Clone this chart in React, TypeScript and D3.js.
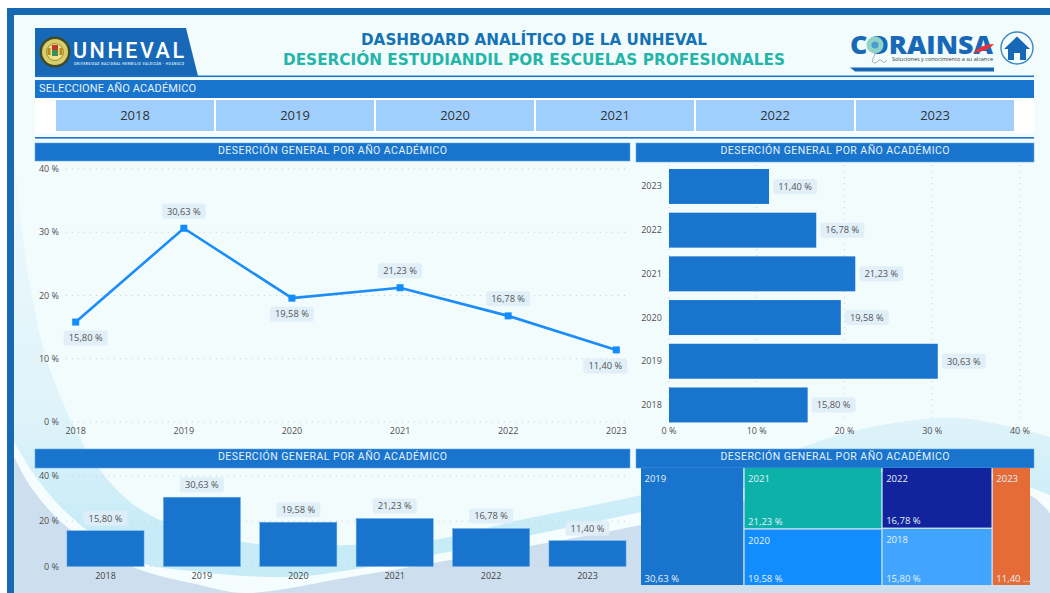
import React from "react";
import * as d3 from "d3";

// ---- data ----
const years = ["2018", "2019", "2020", "2021", "2022", "2023"];
const rates = [15.8, 30.63, 19.58, 21.23, 16.78, 11.4];
const axisTicksMain = [0, 10, 20, 30, 40];
const axisTicksBottom = [0, 20, 40];
const lineLabelBelow = [true, false, true, false, false, true];
const lineLabelShift = [10, 0, 0, 0, 0, -11];
const treemapGroups = [["2019"], ["2021", "2020"], ["2022", "2018"], ["2023"]];
const treemapColors: Record<string, string> = {
  "2019": "#1874cd",
  "2021": "#0cb2aa",
  "2022": "#12239e",
  "2020": "#118dff",
  "2018": "#41a4ff",
  "2023": "#e66c37",
};
const panelTitle = "DESERCIÓN GENERAL POR AÑO ACADÉMICO";

// ---- background wave outlines (decoration) ----
const waveCyan: [number, number][] = [
  [14, 150], [22, 230], [30, 285], [50, 370], [100, 470], [150, 515], [250, 543], [350, 545], [433, 540],
  [520, 520], [641, 495], [760, 462], [858, 430], [958, 418], [1050, 437],
];
const waveWhite: [number, number][] = [
  [14, 441], [33, 473], [67, 513], [133, 560], [200, 572], [290, 577], [350, 570], [433, 555],
  [641, 512], [760, 485], [858, 465], [958, 465], [1050, 495],
];
const waveDark: [number, number][] = [
  [14, 457], [33, 490], [67, 527], [133, 567], [200, 585], [245, 593], [350, 577], [433, 563],
  [641, 525], [800, 488], [900, 470], [960, 472], [1030, 495], [1050, 513],
];

const BLUE = "#1874cd";
const LABEL_FONT = "'Open Sans', sans-serif";
const TITLE_FONT = "Roboto, sans-serif";
const TICK = "#4f4f4f";

const wavePath = (pts: [number, number][]) => {
  const top = d3.line().curve(d3.curveCatmullRom.alpha(0.5))(pts) as string;
  return `${top}L1050,593L14,593Z`;
};

function TitleBar({ x, w, y, h }: { x: number; w: number; y: number; h: number }) {
  return (
    <g>
      <rect x={x} y={y} width={w} height={h} fill={BLUE} stroke="#64a9e8" strokeWidth={0.6} />
      <text
        x={x + w / 2}
        y={y + 11}
        textAnchor="middle"
        fill="#e6f2fb"
        fontFamily={TITLE_FONT}
        fontWeight={400}
        fontSize={10.5}
        textLength={229}
        lengthAdjust="spacing"
      >
        {panelTitle}
      </text>
    </g>
  );
}

function DataLabel({ cx, cy, text, w = 44 }: { cx: number; cy: number; text: string; w?: number }) {
  return (
    <g>
      <rect x={cx - w / 2} y={cy - 7.5} width={w} height={15} rx={3} fill="#dfedf8" fillOpacity={0.9} />
      <text x={cx} y={cy + 3.3} textAnchor="middle" fontFamily={LABEL_FONT} fontSize={9.3} fill="#555">
        {text}
      </text>
    </g>
  );
}

const fmt = (v: number) => v.toFixed(2).replace(".", ",") + " %";

function LineChart() {
  const x = d3.scalePoint<string>().domain(years).range([75.7, 616.3]);
  const y = d3.scaleLinear().domain([0, 40]).range([422, 169]);
  const path = d3
    .line<number>()
    .x((_, i) => x(years[i]) as number)
    .y((d) => y(d))(rates) as string;
  return (
    <g>
      {axisTicksMain.map((t) => (
        <g key={t}>
          <line x1={66} x2={626} y1={y(t)} y2={y(t)} stroke="#c8cdd0" strokeWidth={1} strokeDasharray="1 5" />
          <text x={59} y={y(t) + 3} textAnchor="end" fontFamily={LABEL_FONT} fontSize={9} fill={TICK}>
            {t} %
          </text>
        </g>
      ))}
      {years.map((c) => (
        <text key={c} x={x(c)} y={434} textAnchor="middle" fontFamily={LABEL_FONT} fontSize={9} fill={TICK}>
          {c}
        </text>
      ))}
      <path d={path} fill="none" stroke="#1a8dfa" strokeWidth={2.6} />
      {years.map((c, i) => (
        <rect key={c} x={(x(c) as number) - 3.5} y={y(rates[i]) - 3.5} width={7} height={7} fill="#118dff" />
      ))}
      {years.map((c, i) => (
        <DataLabel
          key={c}
          cx={(x(c) as number) + lineLabelShift[i]}
          cy={y(rates[i]) + (lineLabelBelow[i] ? 16 : -17)}
          text={fmt(rates[i])}
        />
      ))}
    </g>
  );
}

function HBarChart() {
  const x = d3.scaleLinear().domain([0, 40]).range([669, 1020]);
  const y = d3.scaleBand<string>().domain([...years].reverse()).range([164.6, 426.8]).paddingInner(0.2).paddingOuter(0.1);
  return (
    <g>
      {axisTicksMain.map((t) => (
        <g key={t}>
          <line x1={x(t)} x2={x(t)} y1={165} y2={422} stroke="#c8cdd0" strokeWidth={1} strokeDasharray="1 5" />
          <text x={x(t)} y={434} textAnchor="middle" fontFamily={LABEL_FONT} fontSize={9} fill={TICK}>
            {t} %
          </text>
        </g>
      ))}
      {years.map((c, i) => (
        <g key={c}>
          <text
            x={651.5}
            y={(y(c) as number) + y.bandwidth() / 2 + 3}
            textAnchor="middle"
            fontFamily={LABEL_FONT}
            fontSize={9}
            fill={TICK}
          >
            {c}
          </text>
          <rect x={x(0)} y={y(c)} width={x(rates[i]) - x(0)} height={y.bandwidth()} fill={BLUE} />
          <DataLabel cx={x(rates[i]) + 26} cy={(y(c) as number) + y.bandwidth() / 2} text={fmt(rates[i])} />
        </g>
      ))}
    </g>
  );
}

function ColumnChart() {
  const x = d3.scaleBand<string>().domain(years).range([57.3, 635.7]).paddingInner(0.2).paddingOuter(0.1);
  const y = d3.scaleLinear().domain([0, 40]).range([566.5, 476]);
  return (
    <g>
      {axisTicksBottom.map((t) => (
        <g key={t}>
          <line x1={66} x2={626} y1={y(t)} y2={y(t)} stroke="#c8cdd0" strokeWidth={1} strokeDasharray="1 5" />
          <text x={59} y={y(t) + 3} textAnchor="end" fontFamily={LABEL_FONT} fontSize={9} fill={TICK}>
            {t} %
          </text>
        </g>
      ))}
      {years.map((c, i) => (
        <g key={c}>
          <rect
            x={x(c)}
            y={y(rates[i])}
            width={x.bandwidth()}
            height={y(0) - y(rates[i])}
            fill={BLUE}
            stroke="#6db0ec"
            strokeWidth={0.5}
          />
          <DataLabel cx={(x(c) as number) + x.bandwidth() / 2} cy={y(rates[i]) - 12.5} text={fmt(rates[i])} />
          <text
            x={(x(c) as number) + x.bandwidth() / 2}
            y={579}
            textAnchor="middle"
            fontFamily={LABEL_FONT}
            fontSize={9}
            fill="#444"
          >
            {c}
          </text>
        </g>
      ))}
    </g>
  );
}

function Treemap() {
  const rateOf = (k: string) => rates[years.indexOf(k)];
  const data = {
    name: "root",
    children: treemapGroups.map((g, i) => ({ name: "g" + i, children: g.map((k) => ({ name: k, value: rateOf(k) })) })),
  };
  const root = d3.hierarchy<any>(data).sum((d) => d.value || 0);
  d3
    .treemap<any>()
    .size([389, 117])
    .paddingInner(1.4)
    .tile((node: any, x0: number, y0: number, x1: number, y1: number) =>
      (node.depth === 0 ? d3.treemapDice : d3.treemapSlice)(node, x0, y0, x1, y1)
    )(root);
  return (
    <g transform="translate(641,468)">
      {root.leaves().map((n: any) => {
        const w = n.x1 - n.x0;
        const label = fmt(n.data.value);
        const shown = w < 45 ? label.slice(0, 5) + " ..." : label;
        return (
          <g key={n.data.name}>
            <rect x={n.x0} y={n.y0} width={w} height={n.y1 - n.y0} fill={treemapColors[n.data.name]} />
            <text x={n.x0 + 3.5} y={n.y0 + 14} fontFamily={LABEL_FONT} fontSize={9.5} fill="#e8f1f8">
              {n.data.name}
            </text>
            <text x={n.x0 + 3.5} y={n.y1 - 3.5} fontFamily={LABEL_FONT} fontSize={9.5} fill="#e8f1f8">
              {shown}
            </text>
          </g>
        );
      })}
    </g>
  );
}

function Header() {
  const btn = d3.scaleBand<string>().domain(years).range([56, 1014]).paddingInner(0.0125);
  return (
    <g>
      {/* UNHEVAL logo */}
      <polygon points="35,28 186,28 198,76 35,76" fill="#1769b8" />
      <circle cx={55} cy={52} r={15.5} fill="#3f4a2a" />
      <circle cx={55} cy={52} r={13} fill="#d9cf6a" />
      <circle cx={55} cy={52} r={8.5} fill="#efe08a" stroke="#8a7a28" strokeWidth={0.8} />
      <rect x={52} y={45} width={6} height={5} fill="#c0392b" />
      <rect x={52} y={50} width={6} height={6} fill="#3d8f5a" />
      <rect x={47.5} y={48} width={3} height={7} fill="#b98a1f" />
      <rect x={59.5} y={48} width={3} height={7} fill="#b98a1f" />
      <text x={73} y={57.5} fill="#fff" fontFamily="Roboto, sans-serif" fontWeight={500} fontSize={21.5} textLength={111}>
        UNHEVAL
      </text>
      <text x={74} y={64.5} fill="#dbe9f6" fontFamily="Roboto, sans-serif" fontWeight={700} fontSize={3} textLength={110}>
        UNIVERSIDAD NACIONAL HERMILIO VALDIZÁN - HUÁNUCO
      </text>

      {/* titles */}
      <text x={361} y={45} fill="#1472b5" fontFamily="'DejaVu Sans', sans-serif" fontWeight={700} fontSize={15.5} textLength={346} lengthAdjust="spacingAndGlyphs">
        DASHBOARD ANALÍTICO DE LA UNHEVAL
      </text>
      <text x={283} y={64.5} fill="#25b5a8" fontFamily="'DejaVu Sans', sans-serif" fontWeight={700} fontSize={15.5} textLength={502} lengthAdjust="spacingAndGlyphs">
        DESERCIÓN ESTUDIANDIL POR ESCUELAS PROFESIONALES
      </text>

      {/* CORAINSA logo */}
      <text x={850} y={53.5} fill="#1769b8" fontFamily="'Open Sans', sans-serif" fontWeight={800} fontSize={25} textLength={143} lengthAdjust="spacingAndGlyphs">
        CORAINSA
      </text>
      <circle cx={875} cy={45} r={8.5} fill="#8fd3c8" />
      <circle cx={875} cy={45} r={3.5} fill="#4a9ccf" />
      <path d="M875,54 q-2,5 -3,7 q3,4 6,0 q2,-3 4,0 q2,3 5,-1" fill="none" stroke="#777" strokeWidth={0.6} />
      <path d="M973,53 q8,-9 21,-9 q-5,7 -21,9Z" fill="#e5333a" />
      <text x={892} y={60.5} fill="#333" fontFamily="'Open Sans', sans-serif" fontSize={5} textLength={101} lengthAdjust="spacingAndGlyphs">
        Soluciones y conocimiento a su alcance
      </text>
      <polygon points="850,67.5 994,67.5 994,71.5 855,71.5" fill="#1769b8" />
      <circle cx={1017} cy={48} r={16} fill="#f4fcfd" stroke="#3b87c4" strokeWidth={1.4} />
      <path d="M1017,36.5 L1030,49 L1026,49 L1026,60 L1020,60 L1020,53 L1014,53 L1014,60 L1008,60 L1008,49 L1004,49 Z" fill="#1769b8" />

      <rect x={35} y={75.5} width={999} height={1.6} fill="#1874cd" />

      {/* slicer */}
      <rect x={35} y={80} width={999} height={18} fill={BLUE} />
      <text x={39} y={92} fill="#e6f2fb" fontFamily={TITLE_FONT} fontWeight={400} fontSize={11} textLength={157} lengthAdjust="spacing">
        SELECCIONE AÑO ACADÉMICO
      </text>
      <rect x={35} y={98} width={999} height={35} fill="#fff" />
      {years.map((c) => (
        <g key={c}>
          <rect x={btn(c)} y={100} width={btn.bandwidth()} height={31} fill="#a0cffd" />
          <text
            x={(btn(c) as number) + btn.bandwidth() / 2}
            y={120}
            textAnchor="middle"
            fontFamily={LABEL_FONT}
            fontSize={13}
            fill="#333"
          >
            {c}
          </text>
        </g>
      ))}
      <rect x={35} y={137} width={999} height={1.6} fill="#1874cd" />
    </g>
  );
}

export default function App() {
  return (
    <div style={{ position: "fixed", left: 0, top: 0, width: 1050, height: 593, background: "#fff", overflow: "hidden" }}>
      <svg width={1050} height={593} viewBox="0 0 1050 593" style={{ display: "block" }}>
        <defs>
          <linearGradient id="waveFill" x1="0" y1="0" x2="0" y2="1">
            <stop offset="0" stopColor="#eef9fc" />
            <stop offset="0.6" stopColor="#dff3fa" />
            <stop offset="0.85" stopColor="#c8ecf7" />
            <stop offset="1" stopColor="#c6ebf7" />
          </linearGradient>
        </defs>
        <rect x={7} y={8} width={1043} height={585} fill="#1769b0" />
        <rect x={14} y={15} width={1036} height={578} fill="#f3fcfd" />
        <path d={wavePath(waveCyan)} fill="url(#waveFill)" />
        <path d={wavePath(waveWhite)} fill="#f5fdfe" />
        <path d={wavePath(waveDark)} fill="#cddfee" />

        <Header />
        <TitleBar x={35} w={595} y={143} h={18} />
        <TitleBar x={636} w={398} y={143} h={19} />
        <TitleBar x={35} w={595} y={449} h={19} />
        <TitleBar x={636} w={398} y={449} h={19} />

        <LineChart />
        <HBarChart />
        <ColumnChart />
        <Treemap />
      </svg>
    </div>
  );
}
